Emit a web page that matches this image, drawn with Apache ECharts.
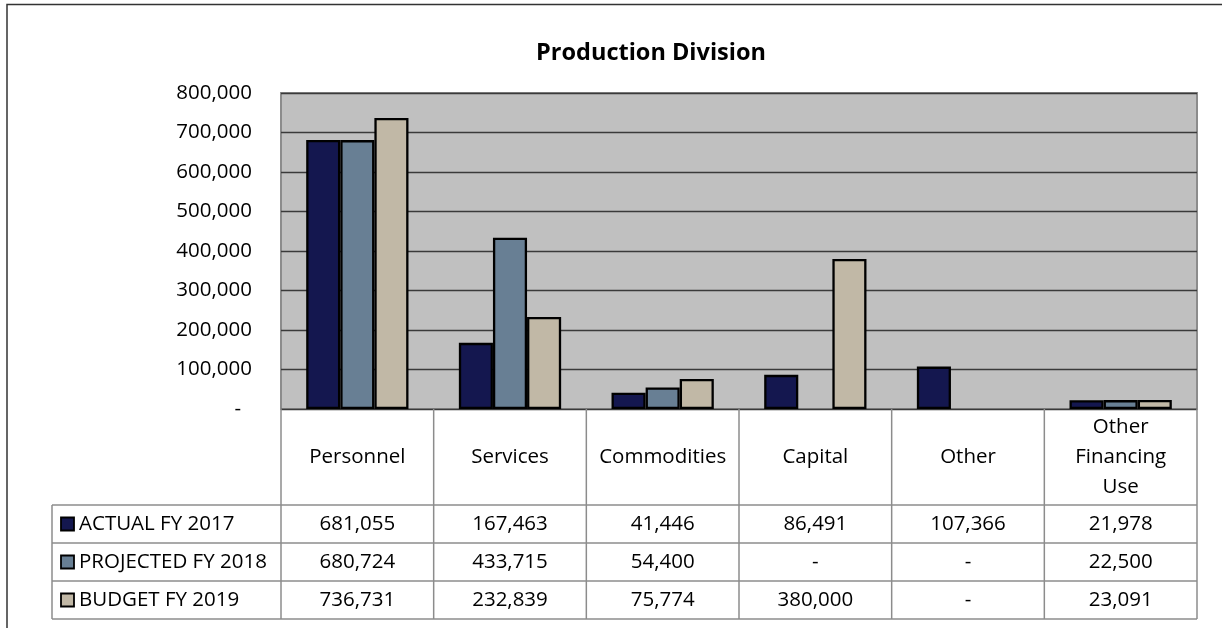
<!DOCTYPE html>
<html>
<head>
<meta charset="utf-8">
<script src="https://cdn.jsdelivr.net/npm/echarts@6/dist/echarts.min.js"></script>
<style>
  html, body { margin: 0; padding: 0; background: #fff; }
  #chart { width: 1222px; height: 628px; }
</style>
</head>
<body>
<div id="chart"></div>
<script>
// Production Division budget by expense category
const categories = ['Personnel', 'Services', 'Commodities', 'Capital', 'Other', 'Other\nFinancing\nUse'];
const seriesNames = ['ACTUAL FY 2017', 'PROJECTED FY 2018', 'BUDGET FY 2019'];
const actual2017 = [681055, 167463, 41446, 86491, 107366, 21978];
const projected2018 = [680724, 433715, 54400, null, null, 22500];
const budget2019 = [736731, 232839, 75774, 380000, null, 23091];
const yTicks = [0, 100000, 200000, 300000, 400000, 500000, 600000, 700000, 800000];

const seriesData = [actual2017, projected2018, budget2019];
const colors = ['#14174F', '#687F94', '#C1B8A6'];
const FONT = '"Open Sans", "Noto Sans", sans-serif';
const FS = 20.5;

// plot rectangle
const G = { left: 281, top: 93, width: 916, height: 316 };
const tableTop = G.top + G.height;       // header row starts under the plot
const headerH = 96;
const rowH = 38;
const labelColLeft = 52;
const gridColor = '#8C8C8C';

const fmt = v => (v === null || v === 0) ? '-' : v.toLocaleString('en-US');

const chart = echarts.init(document.getElementById('chart'), null, { renderer: 'canvas' });

chart.setOption({
  backgroundColor: '#ffffff',
  animation: false,
  textStyle: { fontFamily: FONT },
  grid: {
    left: G.left, top: G.top, width: G.width, height: G.height,
    show: true, backgroundColor: '#C0C0C0', borderColor: '#8C8C8C', borderWidth: 2
  },
  xAxis: {
    type: 'category',
    data: categories,
    axisLine: { show: false },
    axisTick: { show: false },
    axisLabel: {
      color: '#000', fontFamily: FONT, fontSize: FS,
      lineHeight: 30, margin: 48, verticalAlign: 'middle', align: 'center',
      interval: 0
    }
  },
  yAxis: {
    type: 'value',
    min: yTicks[0], max: yTicks[yTicks.length - 1], interval: 100000,
    axisLine: { show: false },
    axisTick: { show: false },
    splitLine: { lineStyle: { color: '#3a3a3a', width: 1.3 } },
    axisLabel: {
      color: '#000', fontFamily: FONT, fontSize: FS, margin: 29,
      formatter: v => v === 0 ? '{d|-}' : v.toLocaleString('en-US'),
      rich: { d: { fontFamily: FONT, fontSize: FS, color: '#000', padding: [0, 11, 0, 0] } }
    }
  },
  series: seriesData.map((d, i) => ({
    name: seriesNames[i],
    type: 'bar',
    data: d,
    barGap: '0%',
    barCategoryGap: '33%',
    itemStyle: { color: colors[i], borderColor: '#000', borderWidth: 2.3 }
  }))
});

// data table under the plot, aligned with the category columns
function buildTable() {
  const els = [];
  const colW = G.width / categories.length;
  const right = G.left + G.width;
  const bottom = tableTop + headerH + rowH * seriesNames.length;
  const line = (x1, y1, x2, y2) => ({
    type: 'line', silent: true,
    shape: { x1, y1, x2, y2 },
    style: { stroke: gridColor, lineWidth: 1.5 }
  });

  // column separators
  for (let i = 0; i <= categories.length; i++) {
    const x = G.left + i * colW;
    els.push(line(x, tableTop, x, bottom));
  }
  els.push(line(labelColLeft, tableTop + headerH, labelColLeft, bottom));
  // row separators
  for (let r = 0; r <= seriesNames.length; r++) {
    const y = tableTop + headerH + r * rowH;
    els.push(line(labelColLeft, y, right, y));
  }

  seriesNames.forEach((name, r) => {
    const cy = tableTop + headerH + r * rowH + rowH / 2;
    // legend key
    els.push({
      type: 'rect', silent: true,
      shape: { x: 61, y: cy - 6.5, width: 13, height: 13 },
      style: { fill: colors[r], stroke: '#000', lineWidth: 1.8 }
    });
    els.push({
      type: 'text', silent: true,
      style: {
        x: 79, y: cy, text: name, fill: '#000',
        font: FS + 'px ' + FONT, textAlign: 'left', textVerticalAlign: 'middle'
      }
    });
    seriesData[r].forEach((v, c) => {
      const cx = chart.convertToPixel({ xAxisIndex: 0 }, c);
      els.push({
        type: 'text', silent: true,
        style: {
          x: cx, y: cy, text: fmt(v), fill: '#000',
          font: FS + 'px ' + FONT, textAlign: 'center', textVerticalAlign: 'middle'
        }
      });
    });
  });

  // title
  els.push({
    type: 'text', silent: true,
    style: {
      x: 651, y: 53, text: 'Production Division', fill: '#000',
      font: 'bold 23.5px ' + FONT, textAlign: 'center', textVerticalAlign: 'middle'
    }
  });
  // outer frame
  els.push({
    type: 'rect', silent: true,
    shape: { x: 7, y: 4.5, width: 1240, height: 660 },
    style: { fill: null, stroke: '#333', lineWidth: 1.5 }
  });
  return els;
}

chart.setOption({ graphic: { elements: buildTable() } });
</script>
</body>
</html>
